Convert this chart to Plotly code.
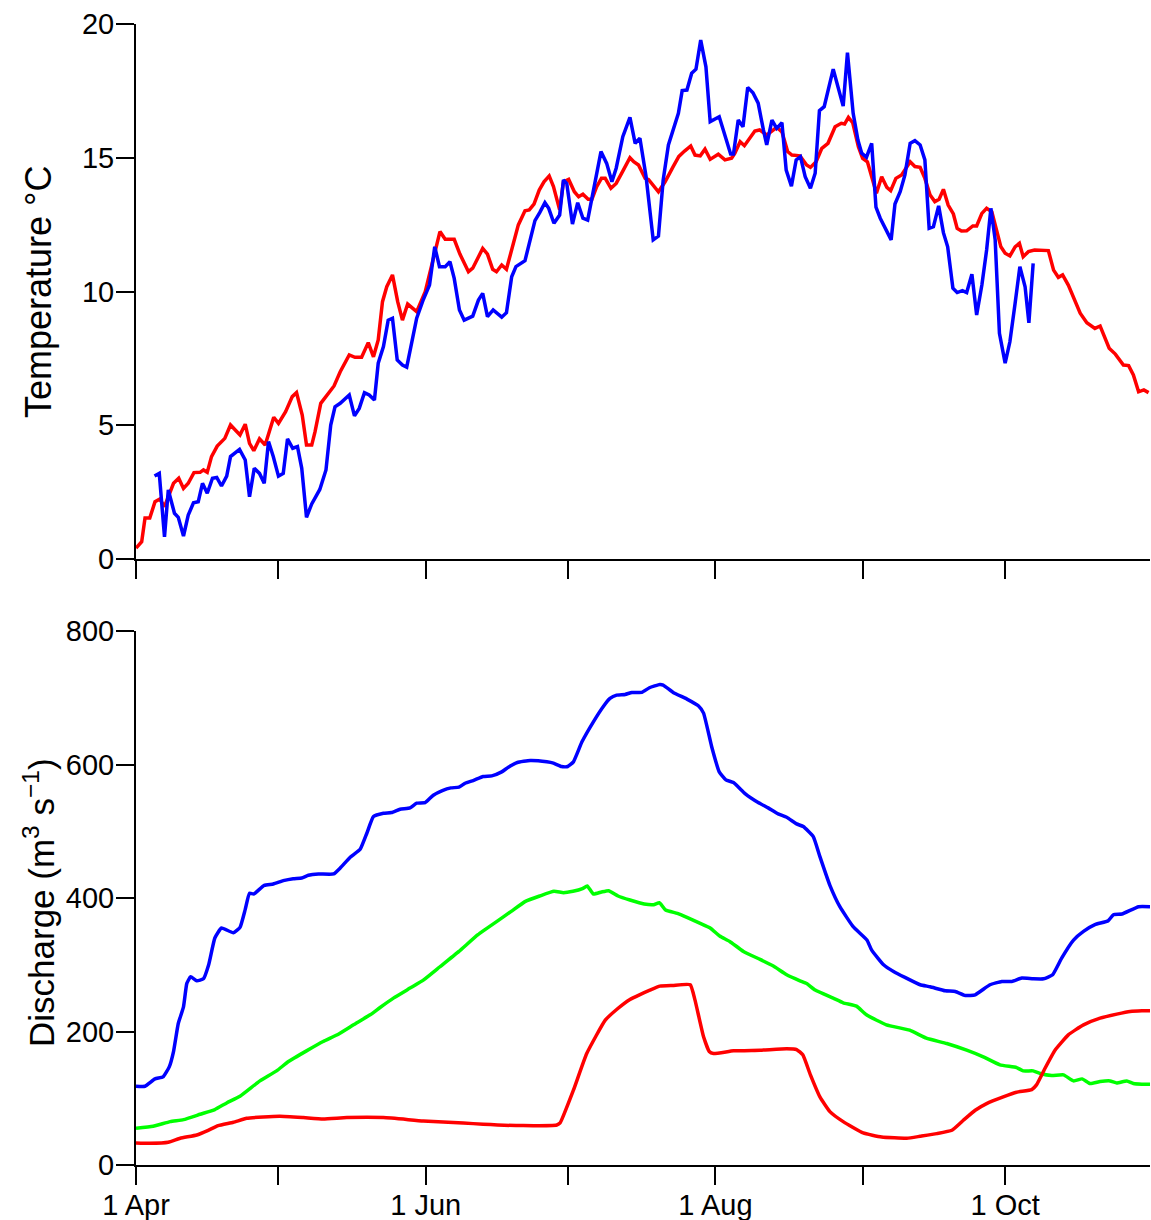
import plotly.graph_objects as go
import pandas as pd

# ---------------- data (days after 1 April) ----------------
temp_red_days = [0, 1.2, 1.9, 2.9, 4, 5, 6, 7.9, 9, 10, 11, 12.2, 13.5, 14.2, 15, 15.9, 17.1, 18.7, 19.9, 21.9,
                 23, 23.9, 24.8, 26, 27.2, 29, 30, 31.5, 32.9, 33.8, 35, 35.9, 37, 37.7, 38.9, 40.2, 41.7, 43,
                 44.9, 46.1, 47.5, 48.9, 50, 51, 51.9, 52.8, 54, 55.1, 56.1, 57.2, 59.1, 60.9, 62.6, 64, 65.1,
                 67, 68.2, 70, 70.9, 73, 74, 75.1, 75.9, 77, 78, 79.3, 80.5, 81.9, 82.8, 83.8, 84.9, 85.9, 87,
                 87.9, 89.2, 90, 91.1, 92.3, 93.2, 94.1, 95.2, 96, 97, 98, 98.8, 100, 101.1, 102.5, 104, 104.8,
                 105.8, 107.2, 107.9, 110, 111.4, 113.1, 114.3, 115.5, 116.8, 117.7, 118.8, 119.8, 120.9, 122.6,
                 124, 125.4, 126.1, 127.2, 128.1, 130.3, 131.3, 132.8, 134.9, 136, 137.2, 138.1, 139.8, 141.2,
                 142, 143.2, 144.4, 145.7, 147.2, 148.5, 149.2, 150, 150.9, 152.1, 153, 154, 155.9, 157, 158.1,
                 158.9, 160, 161.2, 163, 164, 165.1, 166.1, 167.2, 168.2, 169.1, 170, 171, 172.1, 172.9, 173.8,
                 174.9, 176.2, 177, 178.1, 179.1, 180.2, 181.2, 182.1, 183, 184, 185.1, 186, 186.8, 187.9, 189.2,
                 192.1, 193.2, 194.2, 195.1, 196.3, 198.8, 200.2, 201.9, 203, 204.9, 206.2, 207.9, 209, 210,
                 211.1, 212.2, 213.2]
temp_red_vals = [0.41, 0.65, 1.53, 1.53, 2.14, 2.24, 1.96, 2.83, 3.02, 2.64, 2.83, 3.23, 3.24, 3.33, 3.24, 3.83,
                 4.22, 4.51, 5.01, 4.64, 5.04, 4.32, 4.05, 4.49, 4.26, 5.3, 5.07, 5.51, 6.07, 6.22, 5.38, 4.26,
                 4.26, 4.76, 5.82, 6.13, 6.47, 7.0, 7.63, 7.54, 7.54, 8.09, 7.56, 8.19, 9.62, 10.18, 10.62, 9.62,
                 8.93, 9.53, 9.25, 9.99, 11.24, 12.24, 11.95, 11.95, 11.40, 10.74, 10.87, 11.61, 11.40, 10.83,
                 10.74, 10.99, 10.83, 11.74, 12.49, 13.02, 13.05, 13.27, 13.79, 14.1, 14.32, 13.92, 13.05, 14.1,
                 14.19, 13.73, 13.54, 13.64, 13.45, 13.45, 13.92, 14.23, 14.23, 13.86, 14.04, 14.5, 15.0, 14.85,
                 14.73, 14.23, 14.19, 13.73, 14.1, 14.67, 15.05, 15.25, 15.44, 15.10, 15.07, 15.32, 14.94, 15.13,
                 14.92, 14.98, 15.17, 15.60, 15.45, 16.00, 16.04, 15.85, 16.14, 15.97, 15.23, 15.10, 15.07, 14.73,
                 14.64, 14.85, 15.35, 15.54, 16.16, 16.29, 16.26, 16.51, 16.31, 15.41, 14.98, 14.85, 13.67, 14.29,
                 13.89, 13.77, 14.23, 14.36, 14.85, 14.67, 14.64, 14.23, 13.61, 13.36, 13.45, 13.82, 13.23, 12.90,
                 12.36, 12.26, 12.27, 12.45, 12.45, 12.92, 13.11, 12.98, 12.30, 11.67, 11.43, 11.33, 11.67, 11.80,
                 11.30, 11.49, 11.55, 11.53, 10.80, 10.53, 10.62, 10.24, 9.19, 8.83, 8.62, 8.71, 7.88, 7.66, 7.25,
                 7.23, 6.88, 6.25, 6.32, 6.22]

temp_blue_days = [3.9, 4.9, 6, 6.8, 8.1, 8.9, 10, 11, 12.1, 13.1, 14, 15, 16.1, 17, 18, 19.1, 19.9, 21.8, 23,
                  23.9, 24.9, 26, 27, 27.9, 28.9, 30, 31, 31.9, 33, 34, 34.9, 35.9, 37, 38.7, 40, 41, 41.9, 43,
                  44.9, 46, 47, 48.1, 49.1, 50.2, 51, 52.1, 53.1, 54, 55, 56.1, 57, 58.1, 59.1, 60.5, 61.8, 62.9,
                  63.9, 65.1, 66.1, 67, 68.1, 69.1, 70.9, 72.1, 73, 74, 75.2, 77, 78, 79.1, 80, 81.9, 82.9, 84,
                  85, 86.1, 86.9, 88, 89.2, 90, 90.7, 91.9, 93, 94.1, 95.1, 96.3, 97.9, 99.1, 100.2, 101.1, 102.5,
                  104, 105.1, 106.1, 107.4, 108.9, 110, 111, 112.1, 114.2, 115, 116, 117, 117.9, 118.9, 120, 120.9,
                  122.8, 124, 125.2, 125.8, 126.8, 127.8, 128.8, 129.9, 131, 132.1, 132.8, 133.9, 134.9, 136,
                  136.9, 138, 139, 139.9, 140.9, 142, 143, 143.9, 144.9, 146.8, 148.9, 149.8, 151, 152, 152.8,
                  153.8, 154.9, 155.8, 156.7, 159, 159.8, 160.9, 161.9, 163, 164, 165.1, 166.1, 167, 167.9, 169,
                  170, 170.9, 172, 172.9, 174, 174.9, 176, 177, 178.1, 179.1, 180, 180.9, 181.8, 183, 184, 185.1,
                  186.1, 187.2, 188, 188.9]
temp_blue_vals = [3.1, 3.2, 0.83, 2.58, 1.71, 1.56, 0.86, 1.64, 2.1, 2.14, 2.83, 2.46, 3.02, 3.05, 2.73, 3.1,
                  3.83, 4.1, 3.7, 2.33, 3.39, 3.2, 2.83, 4.39, 3.83, 3.1, 3.2, 4.49, 4.14, 4.2, 3.39, 1.56, 2.06,
                  2.6, 3.33, 5.01, 5.69, 5.82, 6.13, 5.35, 5.63, 6.22, 6.13, 5.94, 7.32, 7.94, 8.93, 9.0, 7.44,
                  7.25, 7.17, 8.06, 9.0, 9.7, 10.24, 11.67, 10.93, 10.93, 11.11, 10.49, 9.31, 8.93, 9.08, 9.68,
                  9.93, 9.06, 9.31, 9.04, 9.21, 10.55, 10.93, 11.15, 11.86, 12.65, 12.95, 13.32, 13.11, 12.55,
                  12.86, 14.17, 14.04, 12.52, 13.32, 12.74, 12.67, 13.73, 15.23, 14.79, 14.10, 14.61, 15.79, 16.51,
                  15.54, 15.73, 14.29, 11.93, 12.07, 14.17, 15.48, 16.66, 17.51, 17.53, 18.16, 18.31, 19.40, 18.40,
                  16.35, 16.53, 15.85, 15.14, 15.14, 16.41, 16.16, 17.63, 17.43, 17.04, 16.04, 15.48, 16.41, 16.10,
                  16.31, 14.54, 13.94, 14.92, 15.04, 14.29, 13.86, 14.42, 16.76, 16.91, 18.31, 16.93, 18.93, 16.66,
                  15.66, 15.17, 15.02, 15.54, 13.15, 12.74, 11.93, 13.27, 13.73, 14.36, 15.54, 15.64, 15.48, 14.92,
                  12.36, 12.42, 13.20, 12.20, 11.67, 10.12, 9.96, 10.03, 9.96, 10.65, 9.12, 10.24, 11.55, 13.11,
                  11.93, 8.44, 7.32, 8.12, 9.56, 10.93, 10.18, 8.83, 11.05]

q_blue_days = [0, 1.9, 4, 5.7, 7, 7.9, 8.9, 10, 10.7, 11.5, 12.8, 14.2, 15.3, 16.6, 18, 20.5, 21.9, 23, 23.9, 24.8,
               27, 28.9, 31, 33.1, 34.9, 36.3, 38.4, 41.6, 43, 45.1, 47.2, 48.6, 50, 52.1, 53.8, 55.6, 57.7, 59.1,
               60.9, 62.6, 64.5, 66.3, 68, 69.3, 71, 73.1, 74.9, 77, 78.4, 80.3, 83, 86.5, 87.9, 89.6, 90.9, 92.1,
               93.9, 96.3, 98.4, 99.8, 101.2, 103, 104.4, 106.5, 108.1, 110.3, 111, 113.1, 116, 118.4, 119.5,
               121.2, 122.8, 124.2, 125.8, 128.3, 131, 133.1, 135.2, 137, 139.1, 140.5, 142.6, 144, 146.1, 148.2,
               151, 153.9, 154.9, 157.4, 159.5, 161.9, 165.1, 167.2, 170.4, 172.5, 174.6, 176.7, 179.8, 182.3,
               184.4, 186.5, 188.9, 191.1, 193, 194.9, 197.4, 199.5, 201.9, 204.7, 205.8, 207.6, 211.1, 213.5]
q_blue_vals = [118, 118, 129, 132, 147, 170, 212, 237, 272, 282, 276, 279, 300, 340, 355, 348, 356, 383, 407, 406,
               419, 421, 426, 429, 430, 434, 436, 436, 445, 461, 473, 497, 522, 527, 528, 533, 535, 542, 543, 554,
               561, 565, 566, 572, 576, 582, 583, 589, 596, 603, 606, 604, 602, 597, 597, 604, 634, 664, 687, 699,
               704, 705, 708, 708, 715, 720, 719, 708, 698, 688, 677, 627, 589, 577, 573, 556, 543, 535, 526, 521,
               511, 507, 492, 462, 419, 387, 357, 337, 322, 300, 290, 281, 270, 267, 261, 260, 254, 255, 270, 275,
               275, 280, 279, 279, 285, 310, 337, 350, 360, 366, 375, 376, 387, 387]

q_green_days = [0, 3.6, 7.2, 10, 13.5, 16.6, 19.1, 21.9, 26.1, 29.6, 32.1, 35.9, 39.4, 42.6, 45.8, 49.3, 51.4, 54.2,
                57.7, 60.5, 64, 68, 72, 76, 79, 82, 85, 88, 90, 92, 94, 95, 96.3, 98, 99.5, 101.5, 104, 107, 109,
                110.2, 111.5, 114, 116, 118.8, 120.9, 122.9, 125, 127.9, 131.4, 134.2, 137, 139.8, 141.2, 143,
                146.8, 148.9, 151.7, 153.8, 158, 162.9, 166.4, 170.7, 174.9, 178.4, 181.9, 185.4, 186.8, 188.9,
                190.4, 192.8, 195.3, 197.4, 199.2, 200.9, 203, 205.1, 206.5, 208.6, 210, 211.8, 213.5]
q_green_vals = [55, 58, 65, 68, 76, 83, 93, 103, 126, 141, 155, 171, 185, 196, 210, 225, 236, 250, 265, 277, 297,
                320, 345, 365, 380, 395, 403, 410, 408, 410, 414, 418, 406, 409, 411, 403, 397, 391, 390, 393, 382,
                377, 371, 362, 355, 343, 335, 320, 308, 298, 285, 276, 272, 262, 250, 243, 238, 225, 210, 202, 190,
                182, 172, 162, 150, 146, 141, 141, 137, 134, 135, 126, 129, 122, 125, 126, 123, 126, 122, 121, 121]

q_red_days = [0, 2.9, 6.8, 9.3, 12.8, 15.2, 17.3, 20.5, 23.3, 26.8, 30.3, 35.2, 39.4, 44.4, 52.1, 60.5, 68.9, 73.1,
              81.5, 88.6, 89.3, 92.1, 94.9, 98.8, 101.2, 104, 106, 108.2, 110.3, 113, 116.7, 117.7, 119.5, 120.7,
              121.6, 125.8, 131.4, 137, 139.1, 140.4, 142, 144, 146.1, 148.9, 153.1, 157, 162.3, 165.1, 168.6,
              171.8, 174.2, 176.7, 179.1, 182.6, 185.4, 188.6, 189.6, 191.4, 193.5, 196.3, 199.5, 203, 206.5,
              209.3, 211.8, 213.5]
q_red_vals = [33, 32.5, 34, 40, 45, 52, 59, 64, 70, 72, 73, 71, 69, 71, 71, 66, 63, 61, 59, 60, 63, 112, 167, 217,
              233, 248, 255, 262, 268, 269, 270, 247, 192, 170, 167, 171, 172, 174, 173, 165, 135, 102, 80, 65, 48,
              42, 40, 43, 47, 52, 67, 82, 92, 102, 109, 113, 120, 145, 172, 195, 210, 220, 226, 230, 231, 231]

month_ticks = ["2011-04-01", "2011-05-01", "2011-06-01", "2011-07-01", "2011-08-01", "2011-09-01", "2011-10-01"]
month_labels = ["1 Apr", "", "1 Jun", "", "1 Aug", "", "1 Oct"]

BASE = pd.Timestamp("2011-04-01")


def to_dates(days):
    return [BASE + pd.Timedelta(days=d) for d in days]


BLUE, RED, GREEN = "#0000FF", "#FF0000", "#00FF00"
FONT = "Arial, 'Liberation Sans', sans-serif"

fig = go.Figure()
fig.add_trace(go.Scatter(x=to_dates(temp_red_days), y=temp_red_vals, mode="lines",
                         line=dict(color=RED, width=3.5), xaxis="x", yaxis="y"))
fig.add_trace(go.Scatter(x=to_dates(temp_blue_days), y=temp_blue_vals, mode="lines",
                         line=dict(color=BLUE, width=3.5), xaxis="x", yaxis="y"))
fig.add_trace(go.Scatter(x=to_dates(q_blue_days), y=q_blue_vals, mode="lines",
                         line=dict(color=BLUE, width=3.5, shape="spline", smoothing=0.4), xaxis="x2", yaxis="y2"))
fig.add_trace(go.Scatter(x=to_dates(q_green_days), y=q_green_vals, mode="lines",
                         line=dict(color=GREEN, width=3.5, shape="spline", smoothing=0.4), xaxis="x2", yaxis="y2"))
fig.add_trace(go.Scatter(x=to_dates(q_red_days), y=q_red_vals, mode="lines",
                         line=dict(color=RED, width=3.5, shape="spline", smoothing=0.4), xaxis="x2", yaxis="y2"))

xrange = [BASE, BASE + pd.Timedelta(days=213.5)]
common_axis = dict(showline=True, linecolor="black", linewidth=2, ticks="outside", ticklen=18,
                   tickwidth=2, tickcolor="black", showgrid=False, zeroline=False, automargin=False,
                   tickfont=dict(family=FONT, size=29, color="black"))

fig.update_layout(
    width=1151, height=1220, autosize=False,
    margin=dict(l=136, r=1, t=24, b=55),
    paper_bgcolor="white", plot_bgcolor="white",
    showlegend=False,
    font=dict(family=FONT, color="black"),
    xaxis=dict(domain=[0, 1], anchor="y", range=xrange, tickvals=month_ticks,
               showticklabels=False, **common_axis),
    yaxis=dict(domain=[0.5311, 1], anchor="x", range=[0, 20], tickvals=[0, 5, 10, 15, 20],
               ticklabelstandoff=-4, **common_axis),
    xaxis2=dict(domain=[0, 1], anchor="y2", range=xrange, tickvals=month_ticks,
                ticktext=month_labels, ticklabelstandoff=-5, **common_axis),
    yaxis2=dict(domain=[0, 0.468], anchor="x2", range=[0, 800], tickvals=[0, 200, 400, 600, 800],
                ticklabelstandoff=-4, **common_axis),
    annotations=[
        dict(text="Temperature °C", textangle=-90, xref="paper", yref="paper",
             x=(39 - 136) / 1014, y=(1165 - 292) / 1141, xanchor="center", yanchor="middle",
             showarrow=False, font=dict(family=FONT, size=36, color="black")),
        dict(text="Discharge (m<sup>3</sup> s<sup>−1</sup>)", textangle=-90, xref="paper", yref="paper",
             x=(39 - 136) / 1014, y=(1165 - 903) / 1141, xanchor="center", yanchor="middle",
             showarrow=False, font=dict(family=FONT, size=35, color="black")),
    ],
)

post = ("document.body.style.margin='0';document.body.style.padding='0';"
        "document.body.style.overflow='hidden';"
        "document.documentElement.style.overflow='hidden';"
        "var gd=document.getElementById('{plot_id}');"
        "Plotly.relayout(gd,{width:1151,height:1220});")

fig.write_html("out.html", config={"responsive": False, "displayModeBar": False}, post_script=post)
